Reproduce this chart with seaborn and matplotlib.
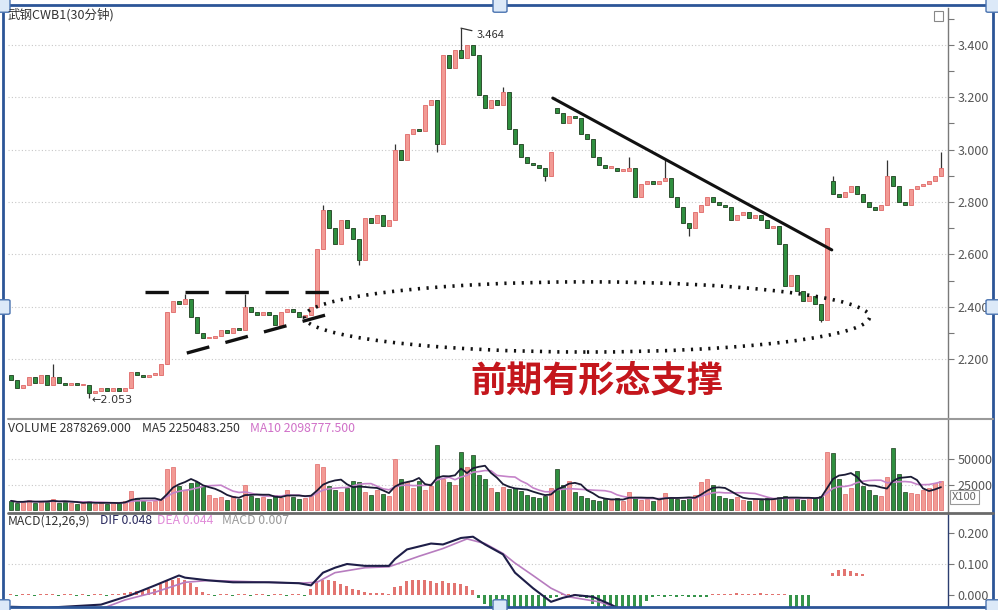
import numpy as np
import pandas as pd
import matplotlib
matplotlib.use("Agg")
import matplotlib.pyplot as plt
import seaborn as sns
from matplotlib.patches import Ellipse, Rectangle, FancyBboxPatch
from matplotlib.lines import Line2D

sns.set_style("white")
plt.rcParams['font.family'] = ['Noto Sans CJK SC', 'DejaVu Sans']

#%% data (30 min bars)

closes = [2.12, 2.09, 2.10, 2.13, 2.11, 2.14, 2.10, 2.13, 2.11, 2.10,
          2.11, 2.10, 2.10, 2.07, 2.08, 2.09, 2.08, 2.09, 2.08, 2.09,
          2.15, 2.14, 2.13, 2.14, 2.14, 2.18, 2.38, 2.42, 2.41, 2.43,
          2.36, 2.30, 2.28, 2.28, 2.29, 2.31, 2.30, 2.32, 2.31, 2.40,
          2.38, 2.37, 2.38, 2.37, 2.33, 2.38, 2.39, 2.38, 2.36, 2.37,
          2.40, 2.62, 2.77, 2.70, 2.64, 2.73, 2.70, 2.66, 2.58, 2.74,
          2.72, 2.75, 2.71, 2.73, 3.00, 2.96, 3.06, 3.08, 3.07, 3.17,
          3.19, 3.02, 3.36, 3.31, 3.38, 3.35, 3.40, 3.36, 3.21, 3.16,
          3.19, 3.17, 3.22, 3.08, 3.02, 2.97, 2.95, 2.94, 2.93, 2.90,
          2.99, 3.14, 3.10, 3.13, 3.12, 3.06, 3.04, 2.97, 2.94, 2.93,
          2.93, 2.92, 2.92, 2.93, 2.82, 2.87, 2.88, 2.87, 2.88, 2.89,
          2.82, 2.78, 2.72, 2.70, 2.76, 2.79, 2.82, 2.80, 2.79, 2.78,
          2.73, 2.75, 2.76, 2.74, 2.75, 2.73, 2.70, 2.71, 2.64, 2.48,
          2.52, 2.46, 2.42, 2.44, 2.41, 2.35, 2.70, 2.83, 2.82, 2.84,
          2.86, 2.83, 2.80, 2.78, 2.77, 2.79, 2.90, 2.86, 2.80, 2.79,
          2.85, 2.86, 2.87, 2.88, 2.90, 2.93]
first_open = 2.14
gap_opens = {91: 3.16, 137: 2.88}
highs = {7: 2.18, 29: 2.45, 39: 2.45, 52: 2.79, 64: 3.02, 75: 3.464,
         82: 3.24, 103: 2.97, 109: 2.96, 137: 2.90, 146: 2.96, 155: 2.99}
lows = {13: 2.053, 26: 2.19, 58: 2.56, 71: 2.99, 89: 2.88, 113: 2.67,
        135: 2.34}

volumes = [9000, 7000, 8000, 10000, 7000, 9000, 8000, 11000, 7000, 8000,
           7000, 6000, 7000, 9000, 6000, 7000, 6000, 7000, 8000, 9000,
           19000, 12000, 9000, 8000, 9000, 11000, 40000, 42000, 24000, 20000,
           26000, 27000, 24000, 15000, 12000, 13000, 10000, 14000, 11000, 25000,
           14000, 12000, 13000, 11000, 15000, 12000, 20000, 13000, 11000, 12000,
           14000, 45000, 42000, 24000, 20000, 18000, 22000, 28000, 27000, 18000,
           15000, 20000, 16000, 14000, 50000, 30000, 27000, 22000, 28000, 20000,
           24000, 64000, 30000, 27000, 25000, 57000, 42000, 54000, 34000, 30000,
           22000, 18000, 23000, 21000, 22000, 19000, 15000, 13000, 12000, 14000,
           22000, 40000, 25000, 28000, 18000, 14000, 12000, 10000, 9000, 11000,
           10000, 12000, 9000, 18000, 12000, 10000, 11000, 9000, 10000, 17000,
           12000, 11000, 10000, 12000, 15000, 27000, 30000, 25000, 14000, 12000,
           11000, 13000, 10000, 9000, 11000, 10000, 12000, 11000, 13000, 14000,
           11000, 12000, 10000, 13000, 12000, 14000, 57000, 56000, 30000, 16000,
           22000, 38000, 24000, 20000, 15000, 14000, 32000, 61000, 35000, 18000,
           17000, 16000, 20000, 22000, 26000, 28000]

macd_hist = [0.004, -0.003, 0.003, 0.004, -0.002, 0.003, 0.004, 0.003, -0.002, 0.002,
             0.003, -0.002, 0.002, -0.003, 0.002, 0.003, -0.002, 0.003, 0.004, 0.005,
             0.010, 0.012, 0.015, 0.018, 0.020, 0.035, 0.045, 0.050, 0.055, 0.050,
             0.040, 0.025, 0.010,
             0.003, -0.002, 0.003, 0.002, -0.002, 0.003, 0.002, -0.002, 0.002,
             0.003, -0.002, 0.002, 0.003, -0.002, 0.002, 0.003, -0.003,
             0.020, 0.045, 0.050, 0.050, 0.045, 0.035, 0.030, 0.020, 0.015, 0.010,
             0.008, 0.005, 0.005, 0.004,
             0.025, 0.030, 0.045, 0.050, 0.050, 0.050, 0.045, 0.040, 0.045, 0.040,
             0.040, 0.035, 0.030, 0.015,
             -0.010, -0.030, -0.040, -0.050, -0.050, -0.050, -0.050, -0.050, -0.050,
             -0.050, -0.050, -0.045, -0.010,
             -0.005, 0.003, 0.003, 0.002, -0.005, -0.010,
             -0.030, -0.040, -0.045, -0.045, -0.045, -0.045, -0.045, -0.045, -0.040, -0.020,
             -0.005, -0.004, -0.005, -0.004, -0.005, -0.004, -0.008, -0.008, -0.008, -0.008,
             0.004, 0.003, 0.004, 0.003, 0.005, 0.004, 0.003, 0.004, 0.005, 0.004,
             0.003, 0.004, 0.003,
             -0.045, -0.045, -0.045, -0.045,
             0, 0, 0, 0, 0, 0, 0, 0, 0, 0, 0,
             0, 0, 0, 0, 0, 0, 0, 0, 0, 0, 0]
# the small loose red bars near the right end of the MACD pane
float_pos = [137, 138, 139, 140, 141, 142]
float_top = [0.070, 0.080, 0.084, 0.078, 0.072, 0.068]
float_base = 0.060

dif_pos = [0, 6, 15, 20, 24, 28, 29, 33, 37, 43, 48, 50, 52, 54, 56, 59, 63, 64,
           66, 70, 72, 75, 77, 79, 82, 84, 87, 90, 92, 94, 97, 100, 104]
dif_val = [-0.038, -0.041, -0.031, 0.000, 0.031, 0.063, 0.056, 0.047, 0.041,
           0.041, 0.038, 0.031, 0.072, 0.088, 0.100, 0.094, 0.094, 0.116,
           0.147, 0.166, 0.163, 0.184, 0.188, 0.163, 0.131, 0.072, 0.022,
           -0.022, -0.009, 0.000, -0.006, -0.031, -0.07]
dea_pos = [0, 15, 19, 24, 29, 33, 48, 51, 54, 59, 63, 68, 72, 76, 79, 82, 84,
           87, 90, 93, 98, 101, 105]
dea_val = [-0.045, -0.045, -0.016, 0.009, 0.041, 0.047, 0.038, 0.041, 0.072,
           0.088, 0.091, 0.125, 0.150, 0.181, 0.166, 0.134, 0.103, 0.063,
           0.022, -0.006, -0.022, -0.041, -0.06]

price_ticks = [2.2, 2.4, 2.6, 2.8, 3.0, 3.2, 3.4]
vol_ticks = [25000, 50000]
macd_ticks = [0.0, 0.1, 0.2]

#%% frame

n = len(closes)
opens = [first_open] + closes[:-1]
for k, v in gap_opens.items():
    opens[k] = v

df = pd.DataFrame({'idx': np.arange(n), 'open': opens, 'close': closes,
                   'volume': volumes, 'hist': macd_hist})
df['up'] = df['close'] >= df['open']
df['ma5'] = df['volume'].rolling(5, min_periods=1).mean()
df['ma10'] = df['volume'].rolling(10, min_periods=1).mean()

W, H = 998, 610
fig = plt.figure(figsize=(W / 100, H / 100), dpi=100)
fig.patch.set_facecolor('white')


def px_axes(left, top, right, bottom):
    return fig.add_axes([left / W, 1 - bottom / H, (right - left) / W, (bottom - top) / H])


ax_p = px_axes(8, 8, 948, 418)
ax_v = px_axes(8, 420, 948, 512)
ax_m = px_axes(8, 513, 948, 607)

up_face, up_edge = '#f29a94', '#e06868'
dn_face, dn_edge = '#2f8f3f', '#1d3d1d'
grid_kw = dict(color='#c8c8c8', lw=0.8, ls=(0, (1, 2)), zorder=0)
lab = 9

for ax in (ax_p, ax_v, ax_m):
    ax.set_xlim(-0.5, 156.17)
    for s in ['top', 'left', 'bottom']:
        ax.spines[s].set_visible(False)
    ax.spines['right'].set_color('#7a7a7a')
    ax.spines['right'].set_linewidth(1.0)
    ax.yaxis.tick_right()
    ax.set_xticks([])
    ax.tick_params(axis='y', which='both', direction='out', length=4, width=0.8,
                   colors='#777', labelcolor='#555', labelsize=lab, pad=3)
    ax.set_facecolor('none')

#%% price pane

up = df[df['up']]
dn = df[~df['up']]
for part, fc, ec in [(up, up_face, up_edge), (dn, dn_face, dn_edge)]:
    lo = np.minimum(part['open'], part['close'])
    hgt = np.maximum((part['close'] - part['open']).abs(), 0.006)
    ax_p.bar(part['idx'], hgt, bottom=lo, width=0.65, color=fc,
             edgecolor=ec, linewidth=0.6, zorder=3)

for k, h in highs.items():
    ax_p.vlines(k, max(opens[k], closes[k]), h, color='#333', lw=0.9, zorder=2)
for k, l in lows.items():
    ax_p.vlines(k, l, min(opens[k], closes[k]), color='#333', lw=0.9, zorder=2)

ax_p.set_ylim(1.975, 3.541)
ax_p.set_yticks(price_ticks)
ax_p.set_yticklabels(['%.3f' % t for t in price_ticks])
ax_p.set_yticks([t + 0.1 for t in price_ticks], minor=True)
for t in price_ticks:
    ax_p.axhline(t, **grid_kw)

# pattern lines
ax_p.plot([22.3, 55.7], [2.456, 2.456], color='#111', lw=2.4,
          ls=(0, (7, 5)), zorder=5)
ax_p.plot([29.3, 54.3], [2.223, 2.380], color='#111', lw=2.4,
          ls=(0, (7, 5)), zorder=5)
ax_p.plot([90.3, 136.8], [3.197, 2.617], color='#111', lw=2.2, zorder=5)
ax_p.add_patch(Ellipse((96.0, 2.361), 94.2, 0.268, fill=False,
                       edgecolor='#111', lw=2.6, ls=(0, (0.6, 1.8)), zorder=5))

ax_p.annotate('3.464', xy=(75, 3.464), xytext=(77.6, 3.438),
              fontsize=8, color='#333', va='center',
              arrowprops=dict(arrowstyle='-', color='#333', lw=0.9,
                              shrinkA=1, shrinkB=0))
ax_p.text(13.5, 2.044, '←2.053', fontsize=8, color='#333', va='center',
          family='DejaVu Sans')

fig.text(597 / W, 1 - 381 / H, '前期有形态支撑', fontsize=26, color='#c4161c',
         fontweight='bold', ha='center', va='center')
fig.text(8 / W, 1 - 15 / H, '武钢CWB1(30分钟)', fontsize=9, color='#333', va='center')

#%% volume pane

for part, fc, ec in [(df[df['up']], up_face, up_edge), (df[~df['up']], dn_face, dn_edge)]:
    ax_v.bar(part['idx'], part['volume'], width=0.75, color=fc, edgecolor=ec,
             linewidth=0.5, zorder=2)
sns.lineplot(x=df['idx'], y=df['ma10'], ax=ax_v, color='#c583c9', lw=1.2, zorder=4)
sns.lineplot(x=df['idx'], y=df['ma5'], ax=ax_v, color='#1b1b35', lw=1.3, zorder=5)
ax_v.set_ylim(-1960, 88235)
ax_v.set_yticks(vol_ticks)
ax_v.set_yticklabels([str(t) for t in vol_ticks])
ax_v.set_xlabel('')
ax_v.set_ylabel('')
for t in vol_ticks:
    ax_v.axhline(t, **grid_kw)
ax_v.text(1.004, 12700, 'X100', transform=ax_v.get_yaxis_transform(),
          fontsize=8, color='#666', va='center',
          bbox=dict(boxstyle='square,pad=0.2', fc='white', ec='#999', lw=0.8))

fs = 8.8
fig.text(8 / W, 1 - 428 / H, 'VOLUME 2878269.000', fontsize=fs, color='#333', va='center')
fig.text(142 / W, 1 - 428 / H, 'MA5 2250483.250', fontsize=fs, color='#333', va='center')
fig.text(250 / W, 1 - 428 / H, 'MA10 2098777.500', fontsize=fs, color='#d070c8', va='center')

#%% MACD pane

hist_col = np.where(df['hist'] >= 0, '#e27470', '#35944a')
ax_m.bar(df['idx'], df['hist'], width=0.5, color=hist_col, linewidth=0, zorder=2)
ax_m.bar(float_pos, np.array(float_top) - float_base, bottom=float_base,
         width=0.5, color='#e27470', linewidth=0, zorder=2)
sns.lineplot(x=dea_pos, y=dea_val, ax=ax_m, color='#b77cbf', lw=1.2, zorder=4)
sns.lineplot(x=dif_pos, y=dif_val, ax=ax_m, color='#1e1e48', lw=1.5, zorder=5)
ax_m.set_ylim(-0.0387, 0.2645)
ax_m.set_yticks(macd_ticks)
ax_m.set_yticklabels(['%.3f' % t for t in macd_ticks])
ax_m.spines['right'].set_color('#2c3e70')
ax_m.axhline(0.1, **grid_kw)
ax_m.set_xlabel('')
ax_m.set_ylabel('')

fig.text(8 / W, 1 - 521 / H, 'MACD(12,26,9)', fontsize=fs, color='#333', va='center')
fig.text(100 / W, 1 - 521 / H, 'DIF 0.048', fontsize=fs, color='#2c2c60', va='center')
fig.text(157 / W, 1 - 521 / H, 'DEA 0.044', fontsize=fs, color='#e08ad8', va='center')
fig.text(222 / W, 1 - 521 / H, 'MACD 0.007', fontsize=fs, color='#999', va='center')

#%% pane separators, frame and handles

for y, c, lw in [(418.5, '#9a9a9a', 1.5), (512.5, '#6a6a6a', 2.0)]:
    fig.add_artist(Line2D([8 / W, 993 / W], [1 - y / H, 1 - y / H], color=c, lw=lw))

fig.add_artist(Rectangle((934 / W, 1 - 21 / H), 9 / W, 10 / H, fill=False,
                         edgecolor='#888', lw=0.8, transform=fig.transFigure))

fig.add_artist(Rectangle((3 / W, 1 - 607 / H), 990 / W, 602 / H, fill=False,
                         edgecolor='#2c5597', lw=2.0, transform=fig.transFigure))
for hx, hy in [(3, 5), (500, 5), (993, 5), (3, 307), (993, 307),
               (3, 607), (500, 607), (993, 607)]:
    fig.add_artist(FancyBboxPatch(((hx - 5) / W, 1 - (hy + 6) / H), 10 / W, 12 / H,
                                  boxstyle='round,pad=0.002', fc='#dce9f8',
                                  ec='#4a73b0', lw=1.0, transform=fig.transFigure))

fig.savefig('out.png', dpi=100)
